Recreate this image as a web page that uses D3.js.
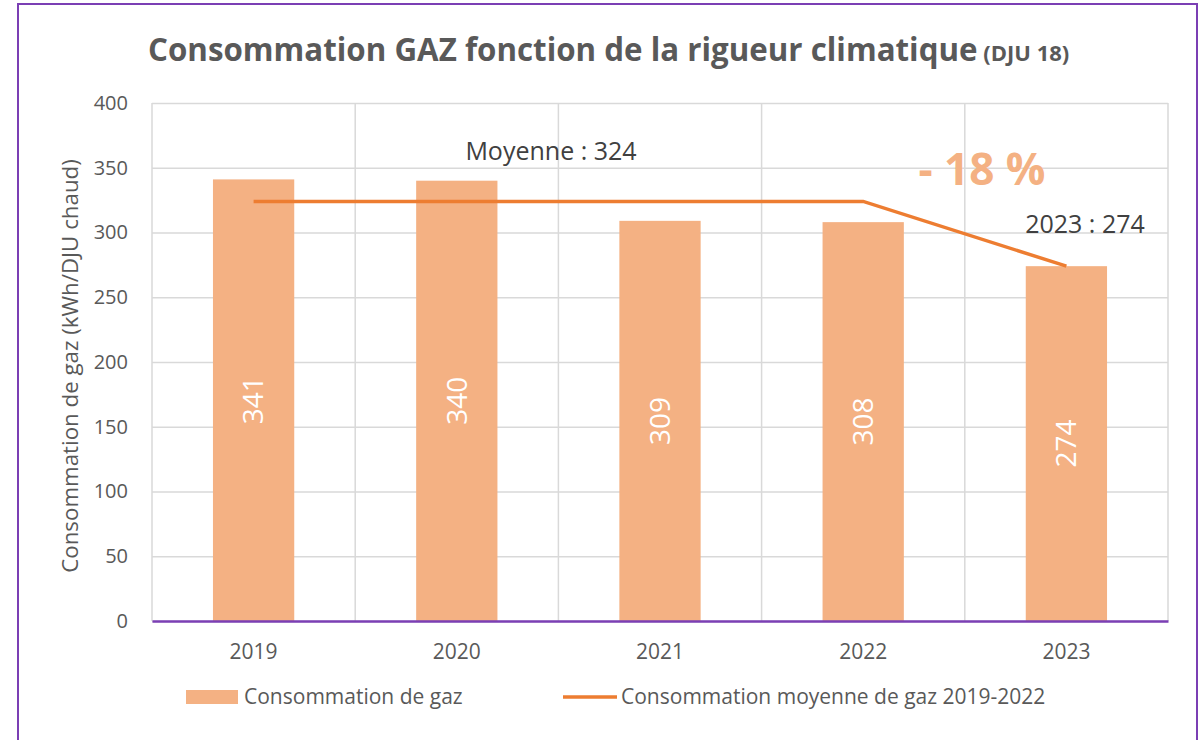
<!DOCTYPE html>
<html>
<head>
<meta charset="utf-8">
<script src="https://cdn.jsdelivr.net/npm/d3@7"></script>
<style>
body{margin:0;background:#fff;}
text{font-family:"Open Sans",sans-serif;}
</style>
</head>
<body>
<div id="chart"></div>
<script>
var years = ["2019","2020","2021","2022","2023"]
var gasValues = [341,340,309,308,274]
var avgValues = [324,324,324,324,274]
var yTicks = [0,50,100,150,200,250,300,350,400]
var legendLabels = ["Consommation de gaz","Consommation moyenne de gaz 2019-2022"]

var width = 1199
var height = 740
var margin = {top:103,left:152,right:31,bottom:119}
var barColor = "#F4B183"
var lineColor = "#ED7D31"
var purple = "#7B3FB4"

var svg = d3.select("#chart").append("svg").attr("width",width).attr("height",height)

// frame
svg.append("rect").attr("x",18).attr("y",4).attr("width",1179).attr("height",760)
	.attr("fill","none").attr("stroke",purple).attr("stroke-width",2)

// title
var title = svg.append("text").attr("x",148).attr("y",61).attr("fill","#595959")
	.style("font-weight",700)
title.append("tspan").text("Consommation GAZ fonction de la rigueur climatique").style("font-size","31.3px")
title.append("tspan").text(" (DJU 18)").style("font-size","22px")

var x = d3.scaleBand().domain(years)
	.range([margin.left,width-margin.right]).paddingInner(0.6).paddingOuter(0.3)
var y = d3.scaleLinear().domain([0,400]).range([height-margin.bottom,margin.top])

// horizontal grid
svg.append("g").attr("transform","translate("+margin.left+",0)")
	.call(d3.axisLeft(y).tickValues(yTicks).tickSize(-(width-margin.right-margin.left)).tickFormat(""))
	.call(function(g){g.select(".domain").remove()})
	.selectAll("line").attr("stroke","#D9D9D9").attr("stroke-width",1.5)

// vertical grid at category boundaries
var step = (width-margin.right-margin.left)/years.length
svg.append("g").selectAll("line").data(d3.range(years.length+1)).join("line")
	.attr("x1",function(i){return margin.left+i*step}).attr("x2",function(i){return margin.left+i*step})
	.attr("y1",y(400)).attr("y2",y(0))
	.attr("stroke","#D9D9D9").attr("stroke-width",1.5)

// y axis labels
svg.append("g").attr("transform","translate("+(margin.left-4)+",0)")
	.call(d3.axisLeft(y).tickValues(yTicks).tickSize(0).tickPadding(20))
	.call(function(g){g.select(".domain").remove()})
	.selectAll("text").attr("fill","#595959").style("font-size","20px")
	.style("font-family","'Open Sans',sans-serif")

// y axis title
svg.append("text").text("Consommation de gaz (kWh/DJU chaud)")
	.attr("transform","translate(78,"+((y(0)+y(400))/2+4)+") rotate(-90)")
	.attr("text-anchor","middle").attr("fill","#595959").style("font-size","22.3px")

// bars
svg.append("g").selectAll("rect").data(gasValues).join("rect")
	.attr("x",function(d,i){return x(years[i])})
	.attr("y",function(d){return y(d)})
	.attr("width",x.bandwidth())
	.attr("height",function(d){return y(0)-y(d)})
	.attr("fill",barColor)

// bar labels
svg.append("g").selectAll("text").data(gasValues).join("text")
	.text(function(d){return d})
	.attr("transform",function(d,i){
		var cx = x(years[i])+x.bandwidth()/2
		var cy = (y(d)+y(0))/2
		return "translate("+cx+","+cy+") rotate(-90)"
	})
	.attr("text-anchor","middle").attr("dy","0.35em")
	.attr("fill","#fff").style("font-size","28px")

// x axis
svg.append("g").attr("transform","translate(0,"+y(0)+")")
	.call(d3.axisBottom(x).tickSize(0).tickPadding(23))
	.call(function(g){g.select(".domain").attr("stroke",purple).attr("stroke-width",2.5)})
	.selectAll("text").attr("fill","#595959").style("font-size","21px")
	.style("font-family","'Open Sans',sans-serif")

// average line
var line = d3.line()
	.x(function(d,i){return x(years[i])+x.bandwidth()/2})
	.y(function(d){return y(d)})
svg.append("path").attr("d",line(avgValues))
	.attr("fill","none").attr("stroke",lineColor).attr("stroke-width",3.5)

// annotations
svg.append("text").text("Moyenne : 324").attr("x",551).attr("y",160)
	.attr("text-anchor","middle").attr("fill","#404040").style("font-size","25px")
svg.append("text").text("2023 : 274").attr("x",1085).attr("y",233)
	.attr("text-anchor","middle").attr("fill","#404040").style("font-size","25px")
svg.append("text").text("- 18 %").attr("x",982).attr("y",185)
	.attr("text-anchor","middle").attr("fill",barColor).style("font-size","44px").style("font-weight",700)

// legend
var legend = svg.append("g")
legend.append("rect").attr("x",186).attr("y",690).attr("width",52).attr("height",14).attr("fill",barColor)
legend.append("text").text(legendLabels[0]).attr("x",244).attr("y",704)
	.attr("fill","#595959").style("font-size","21px")
legend.append("line").attr("x1",563).attr("x2",617).attr("y1",697).attr("y2",697)
	.attr("stroke",lineColor).attr("stroke-width",3.5)
legend.append("text").text(legendLabels[1]).attr("x",621).attr("y",704)
	.attr("fill","#595959").style("font-size","21px")
</script>
</body>
</html>
